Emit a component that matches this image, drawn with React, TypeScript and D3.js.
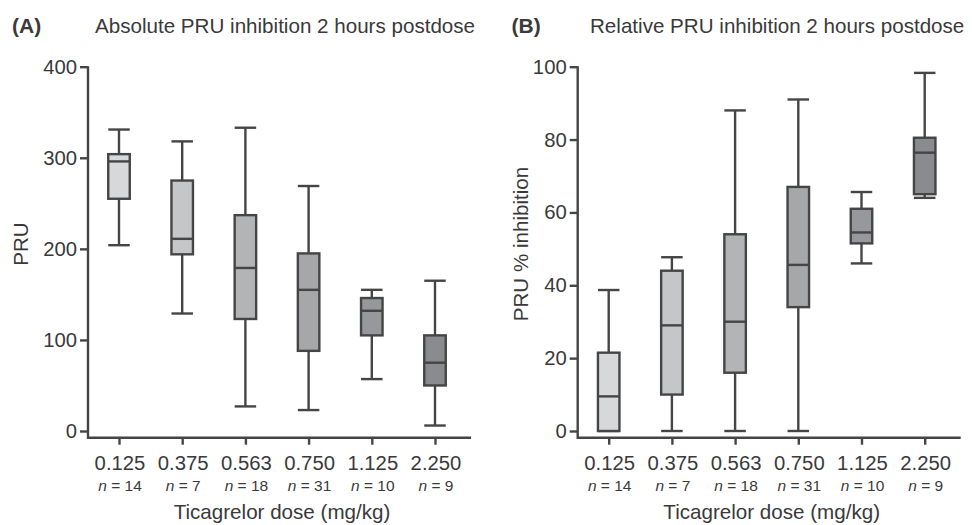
import {useEffect, useRef} from 'react';
import * as d3 from 'd3';

// dose groups (mg/kg) and group sizes
const doses = ['0.125', '0.375', '0.563', '0.750', '1.125', '2.250'];
const nCounts = [14, 7, 18, 31, 10, 9];

// (A) absolute PRU, 2 h postdose
const pruMin = [204, 129, 27, 23, 57, 6];
const pruQ1 = [255, 194, 123, 88, 105, 50];
const pruMedian = [296, 211, 179, 155, 132, 75];
const pruQ3 = [304, 275, 237, 195, 146, 105];
const pruMax = [331, 318, 333, 269, 155, 165];

// (B) PRU % inhibition, 2 h postdose
const inhMin = [0, 0, 0, 0, 46, 64];
const inhQ1 = [0, 10, 16, 34, 51.5, 65];
const inhMedian = [9.5, 29, 30, 45.6, 54.5, 76.4];
const inhQ3 = [21.5, 44, 54, 67, 61, 80.5];
const inhMax = [38.7, 47.7, 88, 91, 65.6, 98.3];

const pruTicks = [0, 100, 200, 300, 400];
const inhTicks = [0, 20, 40, 60, 80, 100];

const boxFills = ['#d7d8da', '#c5c6c8', '#b3b4b6', '#a6a7a9', '#97989b', '#8a8b8e'];
const ink = '#454545';
const textColor = '#3a3a3a';
const font = '"Liberation Sans", Arial, Helvetica, sans-serif';

const W = 972, H = 525;
const plotTop = 66.7, plotBottom = 431, xAxisY = 437.7;

const buildRows = (mins, q1s, meds, q3s, maxs) =>
    doses.map((d, i) => ({dose: d, n: nCounts[i], min: mins[i], q1: q1s[i], med: meds[i], q3: q3s[i], max: maxs[i]}));

export default function App() {
    const svgRef = useRef();

    useEffect(() => {
        const svg = d3.select(svgRef.current);
        svg.selectAll('*').remove();

        const panels = [
            {
                letter: '(A)', letterX: 12, title: 'Absolute PRU inhibition 2 hours postdose', titleX: 95,
                axisX: 88, domain: [0, 400], ticks: pruTicks, ylabel: 'PRU', ylabelX: 28,
                rows: buildRows(pruMin, pruQ1, pruMedian, pruQ3, pruMax)
            },
            {
                letter: '(B)', letterX: 511.5, title: 'Relative PRU inhibition 2 hours postdose', titleX: 590,
                axisX: 577.7, domain: [0, 100], ticks: inhTicks, ylabel: 'PRU % inhibition', ylabelX: 528,
                rows: buildRows(inhMin, inhQ1, inhMedian, inhQ3, inhMax)
            }
        ];

        panels.forEach(p => {
            const g = svg.append('g');

            const y = d3.scaleLinear().domain(p.domain).range([plotBottom, plotTop]);
            const x = d3.scalePoint().domain(doses).range([p.axisX + 31, p.axisX + 347]);

            // header
            g.append('text')
                .attr('x', p.letterX).attr('y', 33)
                .attr('font-weight', 'bold').attr('font-size', 21)
                .attr('fill', textColor).style('font-family', font)
                .text(p.letter);
            g.append('text')
                .attr('x', p.titleX).attr('y', 33)
                .attr('font-size', 20.6)
                .attr('fill', textColor).style('font-family', font)
                .text(p.title);

            // y axis
            const yAxis = g.append('g')
                .attr('transform', `translate(${p.axisX},0)`)
                .call(d3.axisLeft(y).tickValues(p.ticks).tickSize(8).tickPadding(3));
            yAxis.select('.domain').remove();
            yAxis.selectAll('line').attr('stroke', ink).attr('stroke-width', 2.4);
            yAxis.selectAll('text')
                .attr('fill', textColor).attr('font-size', 20.3).style('font-family', font);

            // x axis
            const xAxis = g.append('g')
                .attr('transform', `translate(0,${xAxisY})`)
                .call(d3.axisBottom(x).tickSize(7).tickFormat(() => ''));
            xAxis.select('.domain').remove();
            xAxis.selectAll('line').attr('stroke', ink).attr('stroke-width', 2.4);

            // axis lines joined in an L
            g.append('path')
                .attr('d', `M${p.axisX},${plotTop - 0.5}V${xAxisY}H${p.axisX + 383}`)
                .attr('fill', 'none').attr('stroke', ink).attr('stroke-width', 2.4);

            // dose and n labels
            g.selectAll('.dose').data(p.rows).join('text')
                .attr('x', d => x(d.dose) + 1).attr('y', 470)
                .attr('text-anchor', 'middle').attr('font-size', 20.3)
                .attr('fill', textColor).style('font-family', font)
                .text(d => d.dose);
            const nText = g.selectAll('.nlab').data(p.rows).join('text')
                .attr('x', d => x(d.dose) + 1).attr('y', 490.5)
                .attr('text-anchor', 'middle').attr('font-size', 15.5)
                .attr('fill', textColor).style('font-family', font);
            nText.append('tspan').attr('font-style', 'italic').text('n');
            nText.append('tspan').text(d => ` = ${d.n}`);

            g.append('text')
                .attr('x', p.axisX + 194).attr('y', 519)
                .attr('text-anchor', 'middle').attr('font-size', 20.6)
                .attr('fill', textColor).style('font-family', font)
                .text('Ticagrelor dose (mg/kg)');

            g.append('text')
                .attr('transform', `translate(${p.ylabelX},244) rotate(-90)`)
                .attr('text-anchor', 'middle').attr('font-size', 20.6)
                .attr('fill', textColor).style('font-family', font)
                .text(p.ylabel);

            // boxes
            const bw = 21.5;
            const boxes = g.selectAll('.box').data(p.rows).join('g');

            boxes.append('line')
                .attr('x1', d => x(d.dose)).attr('x2', d => x(d.dose))
                .attr('y1', d => y(d.max)).attr('y2', d => y(d.min))
                .attr('stroke', ink).attr('stroke-width', 2.4);
            boxes.append('line')
                .attr('x1', d => x(d.dose) - bw / 2).attr('x2', d => x(d.dose) + bw / 2)
                .attr('y1', d => y(d.max)).attr('y2', d => y(d.max))
                .attr('stroke', ink).attr('stroke-width', 2.4);
            boxes.append('line')
                .attr('x1', d => x(d.dose) - bw / 2).attr('x2', d => x(d.dose) + bw / 2)
                .attr('y1', d => y(d.min)).attr('y2', d => y(d.min))
                .attr('stroke', ink).attr('stroke-width', 2.4);
            boxes.append('rect')
                .attr('x', d => x(d.dose) - bw / 2).attr('width', bw)
                .attr('y', d => y(d.q3)).attr('height', d => y(d.q1) - y(d.q3))
                .attr('fill', (d, i) => boxFills[i])
                .attr('stroke', ink).attr('stroke-width', 2.4);
            boxes.append('line')
                .attr('x1', d => x(d.dose) - bw / 2).attr('x2', d => x(d.dose) + bw / 2)
                .attr('y1', d => y(d.med)).attr('y2', d => y(d.med))
                .attr('stroke', ink).attr('stroke-width', 2.4);
        });
    }, []);

    return <svg ref={svgRef} width={W} height={H}
                style={{position: 'absolute', left: 0, top: 0, background: '#fff'}}/>;
}
